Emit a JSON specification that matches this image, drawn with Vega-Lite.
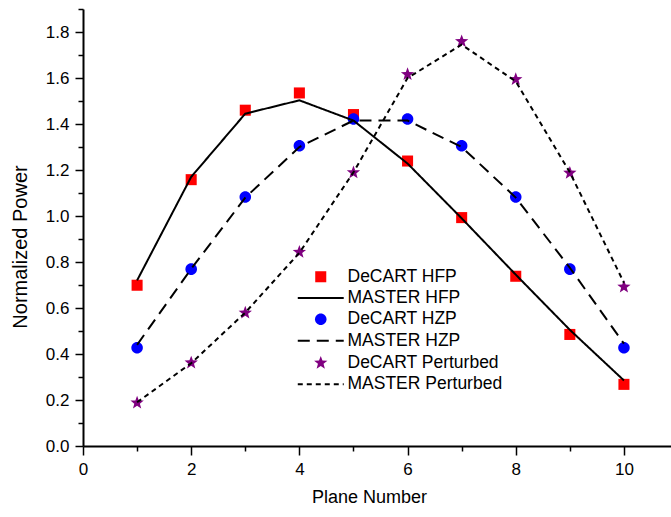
{
  "$schema": "https://vega.github.io/schema/vega-lite/v6.json",
  "width": 588,
  "height": 437,
  "autosize": {"type": "none"},
  "padding": {"left": 83, "top": 9, "right": 0, "bottom": 71},
  "background": "white",
  "config": {
    "view": {"stroke": null},
    "font": "Liberation Sans",
    "axis": {
      "grid": false,
      "domainColor": "black",
      "domainWidth": 2,
      "tickColor": "black",
      "tickWidth": 1.5,
      "labelColor": "black",
      "labelFont": "Liberation Sans",
      "labelFontSize": 17,
      "titleFont": "Liberation Sans",
      "titleFontSize": 18,
      "titleFontWeight": "normal",
      "titleColor": "black",
      "labelOverlap": false,
      "labelFlush": false,
      "labelBound": false
    },
    "legend": {
      "title": null,
      "orient": "none",
      "legendX": 229,
      "legendY": 259,
      "padding": 0,
      "labelFont": "Liberation Sans",
      "labelFontSize": 17.5,
      "labelColor": "black",
      "labelOffset": 18,
      "rowPadding": 1.3,
      "symbolSize": 144,
      "symbolStrokeWidth": 2,
      "symbolOpacity": 1
    }
  },
  "data": {
    "values": [
      {"series": "DeCART HFP", "x": 1, "y": 0.699},
      {"series": "DeCART HFP", "x": 2, "y": 1.158},
      {"series": "DeCART HFP", "x": 3, "y": 1.46},
      {"series": "DeCART HFP", "x": 4, "y": 1.535},
      {"series": "DeCART HFP", "x": 5, "y": 1.441},
      {"series": "DeCART HFP", "x": 6, "y": 1.239},
      {"series": "DeCART HFP", "x": 7, "y": 0.993},
      {"series": "DeCART HFP", "x": 8, "y": 0.738},
      {"series": "DeCART HFP", "x": 9, "y": 0.485},
      {"series": "DeCART HFP", "x": 10, "y": 0.268},
      {"series": "MASTER HFP", "x": 1, "y": 0.72},
      {"series": "MASTER HFP", "x": 2, "y": 1.17},
      {"series": "MASTER HFP", "x": 3, "y": 1.445},
      {"series": "MASTER HFP", "x": 4, "y": 1.503},
      {"series": "MASTER HFP", "x": 5, "y": 1.415},
      {"series": "MASTER HFP", "x": 6, "y": 1.228},
      {"series": "MASTER HFP", "x": 7, "y": 0.99},
      {"series": "MASTER HFP", "x": 8, "y": 0.745},
      {"series": "MASTER HFP", "x": 9, "y": 0.505},
      {"series": "MASTER HFP", "x": 10, "y": 0.285},
      {"series": "DeCART HZP", "x": 1, "y": 0.427},
      {"series": "DeCART HZP", "x": 2, "y": 0.769},
      {"series": "DeCART HZP", "x": 3, "y": 1.083},
      {"series": "DeCART HZP", "x": 4, "y": 1.305},
      {"series": "DeCART HZP", "x": 5, "y": 1.422},
      {"series": "DeCART HZP", "x": 6, "y": 1.422},
      {"series": "DeCART HZP", "x": 7, "y": 1.305},
      {"series": "DeCART HZP", "x": 8, "y": 1.083},
      {"series": "DeCART HZP", "x": 9, "y": 0.769},
      {"series": "DeCART HZP", "x": 10, "y": 0.427},
      {"series": "MASTER HZP", "x": 1, "y": 0.44},
      {"series": "MASTER HZP", "x": 2, "y": 0.77},
      {"series": "MASTER HZP", "x": 3, "y": 1.08},
      {"series": "MASTER HZP", "x": 4, "y": 1.3},
      {"series": "MASTER HZP", "x": 5, "y": 1.415},
      {"series": "MASTER HZP", "x": 6, "y": 1.415},
      {"series": "MASTER HZP", "x": 7, "y": 1.3},
      {"series": "MASTER HZP", "x": 8, "y": 1.08},
      {"series": "MASTER HZP", "x": 9, "y": 0.775},
      {"series": "MASTER HZP", "x": 10, "y": 0.445},
      {"series": "DeCART Perturbed", "x": 1, "y": 0.188},
      {"series": "DeCART Perturbed", "x": 2, "y": 0.362},
      {"series": "DeCART Perturbed", "x": 3, "y": 0.579},
      {"series": "DeCART Perturbed", "x": 4, "y": 0.843},
      {"series": "DeCART Perturbed", "x": 5, "y": 1.189},
      {"series": "DeCART Perturbed", "x": 6, "y": 1.616},
      {"series": "DeCART Perturbed", "x": 7, "y": 1.759},
      {"series": "DeCART Perturbed", "x": 8, "y": 1.594},
      {"series": "DeCART Perturbed", "x": 9, "y": 1.187},
      {"series": "DeCART Perturbed", "x": 10, "y": 0.692},
      {"series": "MASTER Perturbed", "x": 1, "y": 0.19},
      {"series": "MASTER Perturbed", "x": 2, "y": 0.36},
      {"series": "MASTER Perturbed", "x": 3, "y": 0.58},
      {"series": "MASTER Perturbed", "x": 4, "y": 0.84},
      {"series": "MASTER Perturbed", "x": 5, "y": 1.19},
      {"series": "MASTER Perturbed", "x": 6, "y": 1.6},
      {"series": "MASTER Perturbed", "x": 7, "y": 1.745},
      {"series": "MASTER Perturbed", "x": 8, "y": 1.585},
      {"series": "MASTER Perturbed", "x": 9, "y": 1.19},
      {"series": "MASTER Perturbed", "x": 10, "y": 0.71}
    ]
  },
  "encoding": {
    "x": {
      "field": "x",
      "type": "quantitative",
      "scale": {"domain": [0, 10.87], "nice": false, "zero": false},
      "axis": {
        "title": "Plane Number",
        "values": [0, 1, 2, 3, 4, 5, 6, 7, 8, 9, 10],
        "labelExpr": "datum.value % 2 === 0 ? format(datum.value, 'd') : ''",
        "tickSize": {"condition": {"test": "datum.value % 2 === 0", "value": 9}, "value": 5},
        "labelPadding": 6,
        "titlePadding": 11,
        "titleX": 286
      }
    },
    "y": {
      "field": "y",
      "type": "quantitative",
      "scale": {"domain": [0, 1.9], "nice": false},
      "axis": {
        "title": "Normalized Power",
        "values": [0, 0.1, 0.2, 0.3, 0.4, 0.5, 0.6, 0.7, 0.8, 0.9, 1.0, 1.1, 1.2, 1.3, 1.4, 1.5, 1.6, 1.7, 1.8, 1.9],
        "labelExpr": "round(datum.value * 10) % 2 === 0 ? format(datum.value, '.1f') : ''",
        "tickSize": {"condition": {"test": "round(datum.value * 10) % 2 === 0", "value": 8}, "value": 5},
        "labelPadding": 6,
        "titlePadding": 15,
        "titleFontSize": 20,
        "titleY": 237.5
      }
    }
  },
  "layer": [
    {
      "transform": [{"filter": "indexof(datum.series, 'DeCART') === 0"}],
      "mark": {"type": "point", "filled": true, "size": 144, "opacity": 1, "strokeWidth": 0},
      "encoding": {
        "shape": {
          "field": "series",
          "type": "nominal",
          "scale": {
            "domain": ["DeCART HFP", "MASTER HFP", "DeCART HZP", "MASTER HZP", "DeCART Perturbed", "MASTER Perturbed"],
            "range": [
              "M-0.92,-0.92H0.92V0.92H-0.92Z",
              "M-3.83,0H3.83",
              "M0.96,0A0.96,0.96,0,1,1,-0.96,0A0.96,0.96,0,1,1,0.96,0Z",
              "M-3.83,0H3.83",
              "M0,-1.17L0.288,-0.396L1.113,-0.362L0.466,0.151L0.688,0.947L0,0.49L-0.688,0.947L-0.466,0.151L-1.113,-0.362L-0.288,-0.396Z",
              "M-3.83,0H3.83"
            ]
          }
        },
        "fill": {
          "field": "series",
          "type": "nominal",
          "scale": {
            "domain": ["DeCART HFP", "MASTER HFP", "DeCART HZP", "MASTER HZP", "DeCART Perturbed", "MASTER Perturbed"],
            "range": ["#ff0000", "transparent", "#0000ff", "transparent", "#800080", "transparent"]
          }
        }
      }
    },
    {
      "transform": [{"filter": "indexof(datum.series, 'MASTER') === 0"}],
      "mark": {"type": "line", "strokeWidth": 2},
      "encoding": {
        "stroke": {
          "field": "series",
          "type": "nominal",
          "scale": {
            "domain": ["DeCART HFP", "MASTER HFP", "DeCART HZP", "MASTER HZP", "DeCART Perturbed", "MASTER Perturbed"],
            "range": ["transparent", "#000000", "transparent", "#000000", "transparent", "#000000"]
          }
        },
        "strokeDash": {
          "field": "series",
          "type": "nominal",
          "scale": {
            "domain": ["DeCART HFP", "MASTER HFP", "DeCART HZP", "MASTER HZP", "DeCART Perturbed", "MASTER Perturbed"],
            "range": [[1, 0], [1, 0], [1, 0], [12, 7], [1, 0], [5, 4]]
          }
        }
      }
    }
  ]
}
